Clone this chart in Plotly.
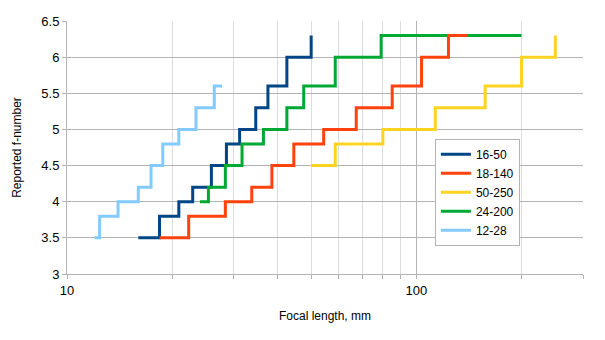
import plotly.graph_objects as go
import numpy as np

names = ["16-50", "18-140", "50-250", "24-200", "12-28"]
colors = ["#004586", "#ff420e", "#ffd320", "#00a933", "#83caff"]

x_16_50 = [16, 18.4, 20.9, 22.9, 25.9, 28.6, 31.2, 34.7, 37.6, 42.6, 50]
y_16_50 = [3.5, 3.8, 4.0, 4.2, 4.5, 4.8, 5.0, 5.3, 5.6, 6.0, 6.3]

x_18_140 = [18.4, 22.3, 28.4, 33.8, 38.6, 44.6, 54.3, 67.3, 85.3, 103.5, 123.6, 140]
y_18_140 = [3.5, 3.8, 4.0, 4.2, 4.5, 4.8, 5.0, 5.3, 5.6, 6.0, 6.3, 6.3]

x_50_250 = [50, 58.6, 80.2, 113.3, 157.4, 200, 250]
y_50_250 = [4.5, 4.8, 5.0, 5.3, 5.6, 6.0, 6.3]

x_24_200 = [24, 25.4, 28.4, 31.7, 36.5, 42.6, 47.6, 58.6, 79.3, 200]
y_24_200 = [4.0, 4.2, 4.5, 4.8, 5.0, 5.3, 5.6, 6.0, 6.3, 6.3]

x_12_28 = [12, 12.4, 14, 16, 17.4, 18.8, 20.9, 23.4, 26.4, 27.8]
y_12_28 = [3.5, 3.8, 4.0, 4.2, 4.5, 4.8, 5.0, 5.3, 5.6, 5.6]

series = [(x_16_50, y_16_50), (x_18_140, y_18_140), (x_50_250, y_50_250),
          (x_24_200, y_24_200), (x_12_28, y_12_28)]

# draw order: red on top
draw_order = [0, 2, 3, 4, 1]

fig = go.Figure()
for i in draw_order:
    xs, ys = series[i]
    fig.add_trace(go.Scatter(
        x=xs, y=ys, mode="lines", name=names[i],
        line=dict(color=colors[i], width=3, shape="hv"),
        legendrank=i + 1,
    ))

font = "Liberation Sans, Arial, sans-serif"
minor_vals = [20, 30, 40, 50, 60, 70, 80, 90, 200, 300]

fig.update_layout(
    width=605, height=340,
    margin=dict(l=67, r=22, t=21, b=66),
    paper_bgcolor="white", plot_bgcolor="white",
    font=dict(family=font, size=12, color="#000000"),
    showlegend=True,
    legend=dict(
        x=0.713, y=0.535, xanchor="left", yanchor="top",
        bgcolor="white", bordercolor="#b3b3b3", borderwidth=1,
        font=dict(family=font, size=12, color="#000000"),
        tracegroupgap=0, itemwidth=30,
    ),
    xaxis=dict(
        type="log", range=[1, np.log10(300)],
        tickvals=[10, 100], ticktext=["10", "100"],
        showgrid=True, gridcolor="#b3b3b3", gridwidth=1,
        minor=dict(tickvals=minor_vals, showgrid=True, gridcolor="#dddddd",
                   ticks="outside", ticklen=4, tickcolor="#b3b3b3"),
        showline=True, linecolor="#b3b3b3", linewidth=1,
        ticks="outside", ticklen=4, tickcolor="#b3b3b3",
        tickfont=dict(size=13), zeroline=False,
        title=dict(text="Focal length, mm", font=dict(size=12), standoff=15),
    ),
    yaxis=dict(
        range=[3, 6.5], dtick=0.5, tick0=3,
        showgrid=True, gridcolor="#b3b3b3", gridwidth=1,
        showline=True, linecolor="#b3b3b3", linewidth=1,
        ticks="outside", ticklen=4, tickcolor="#b3b3b3",
        tickfont=dict(size=13), zeroline=False,
        title=dict(text="Reported f-number", font=dict(size=12), standoff=17),
    ),
)

fig.write_html("out.html")
